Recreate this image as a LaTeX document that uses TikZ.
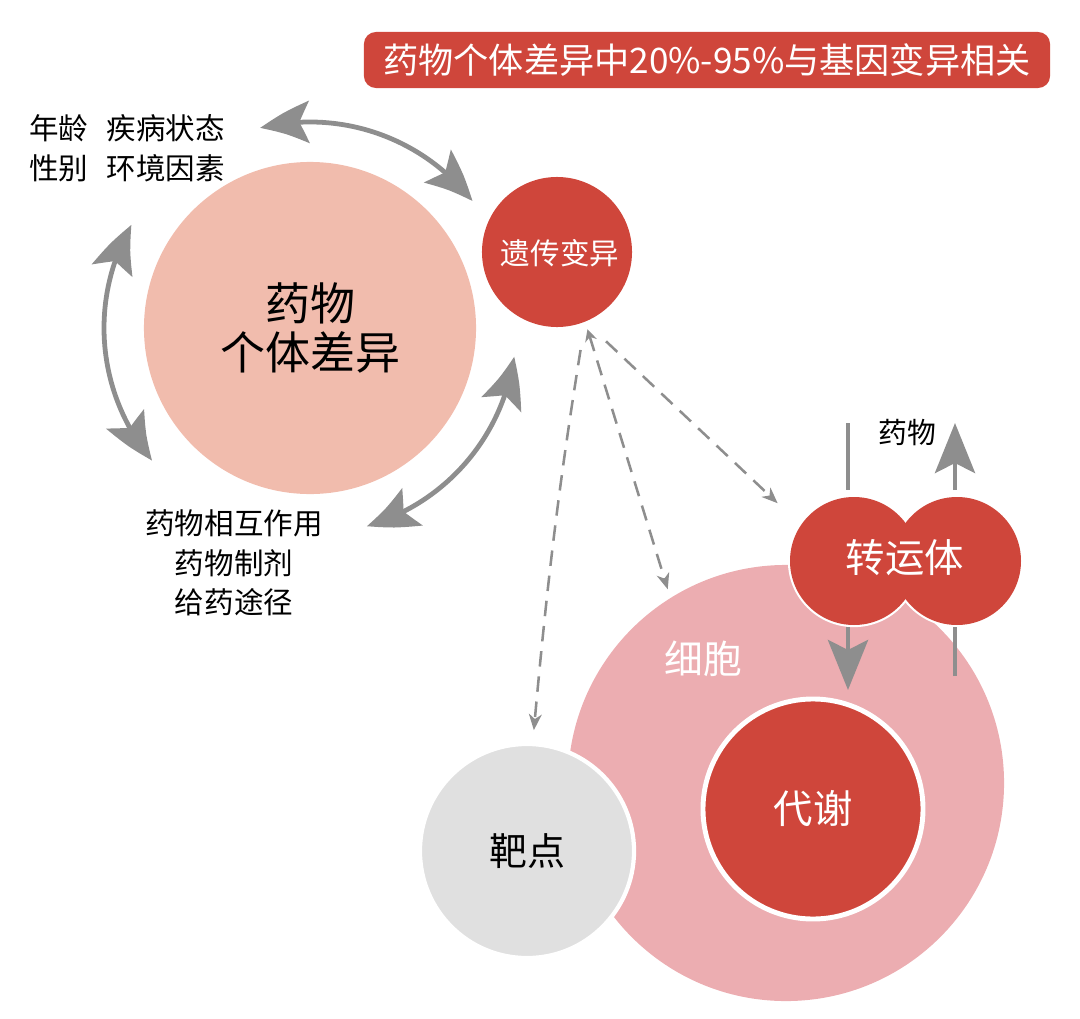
\documentclass[tikz,border=0pt]{standalone}
\usepackage{fontspec}
\setmainfont{Noto Sans CJK SC}
\usepackage{xcolor}
\usetikzlibrary{arrows.meta,bending,calc}
\definecolor{genered}{HTML}{CF463B}
\definecolor{salmon}{HTML}{F1BCAD}
\definecolor{cellpink}{HTML}{ECADB1}
\definecolor{targetgray}{HTML}{E0E0E0}
\definecolor{arrowgray}{HTML}{8E8E8E}

\begin{document}
\begin{tikzpicture}[x=0.025cm, y=0.025cm]
\tikzstyle{every node}+=[inner sep=0pt]
\tikzstyle{disc}=[circle, inner sep=0pt, outer sep=0pt]
\tikzstyle{ring}=[draw=arrowgray, line width=3.4pt, >={Stealth[length=1.25cm,width=1.05cm,inset=0.25cm,bend]}, <->]
\tikzstyle{pipe}=[draw=arrowgray, line width=3.5pt, >={Stealth[length=1.25cm,width=1cm,inset=0.25cm]}]
\tikzstyle{hint}=[draw=arrowgray, line width=1.8pt, dash pattern=on 11pt off 7pt, -{Stealth[length=0.4cm,width=0.32cm,inset=0.12cm]}]
\useasboundingbox (0,0) rectangle (1080,-1019);
\node [fill=genered, rounded corners=0.3cm, minimum width=17.15cm, minimum height=1.4cm, text=white, font=\fontsize{25}{30}\selectfont] (title) at (707,-60) {药物个体差异中20\%-95\%与基因变异相关};
\node [disc, fill=salmon, minimum size=8.3cm, align=center, font=\fontsize{32}{35.5}\selectfont] (big) at (310,-328) {药物\\个体差异};
\node [disc, fill=genered, minimum size=3.75cm] (gene) at (557,-252) {};
\node [text=white, font=\fontsize{21}{25}\selectfont] (genetxt) at (560,-253) {遗传变异};
\node [anchor=west, align=left, font=\fontsize{21}{28.3}\selectfont] (inner) at (29,-148) {年龄\hspace{0.62em}疾病状态\\性别\hspace{0.62em}环境因素};
\node [align=center, font=\fontsize{21}{28.3}\selectfont] (outer) at (234,-563) {药物相互作用\\药物制剂\\给药途径};
\draw [ring] ($(big.center)+(104:206)$) arc [start angle=104, end angle=38, radius=206];
\draw [ring] ($(big.center)+(150:206)$) arc [start angle=150, end angle=220, radius=206];
\draw [ring] ($(big.center)+(-8:206)$) arc [start angle=-8, end angle=-74, radius=206];
\node [disc, fill=cellpink, minimum size=10.9cm] (cell) at (786,-783) {};
\node [text=white, font=\fontsize{27.5}{30}\selectfont] (celltxt) at (703,-659) {细胞};
\node [disc, fill=targetgray, draw=white, line width=3pt, minimum size=5.35cm, font=\fontsize{27}{30}\selectfont] (target) at (527,-851) {靶点};
\node [disc, fill=genered, draw=white, line width=3.5pt, minimum size=5.5cm, text=white, font=\fontsize{28}{30}\selectfont] (meta) at (813,-809) {代谢};
\node [disc, fill=genered, draw=white, line width=3pt, minimum size=3.2cm] (tpL) at (854,-561) {};
\node [disc, fill=genered, draw=white, line width=3pt, minimum size=3.2cm] (tpR) at (957,-561) {};
\fill [genered] (tpL.center) circle (64);
\fill [genered] (tpR.center) circle (64);
\node [text=white, font=\fontsize{28}{30}\selectfont] (trans) at (905,-558) {转运体};
\node [font=\fontsize{20.5}{24}\selectfont] (drug) at (907,-433) {药物};
\coordinate (inA) at (848,-423);
\coordinate (inB) at (848,-490);
\coordinate (inC) at (848,-627);
\coordinate (inD) at (848,-690);
\coordinate (outA) at (955,-676);
\coordinate (outB) at (955,-627);
\coordinate (outC) at (955,-490);
\coordinate (outD) at (955,-423);
\draw [pipe] (inA) -- (inB);
\draw [pipe, ->] (inC) -- (inD);
\draw [pipe] (outA) -- (outB);
\draw [pipe, ->] (outC) -- (outD);
\draw [hint, shorten <=0.72cm, shorten >=0.35cm] (gene.-68) to [bend right=2] (target.87);
\draw [hint, {Stealth[length=0.3cm,width=0.3cm]}-{Stealth[length=0.4cm,width=0.32cm,inset=0.12cm]}, shorten <=0.2cm, shorten >=0.23cm] (gene.-68) -- (cell.122);
\draw [hint, shorten <=0.72cm, shorten >=0.8cm] (gene.-68) -- (tpL.146);
\end{tikzpicture}
\end{document}
